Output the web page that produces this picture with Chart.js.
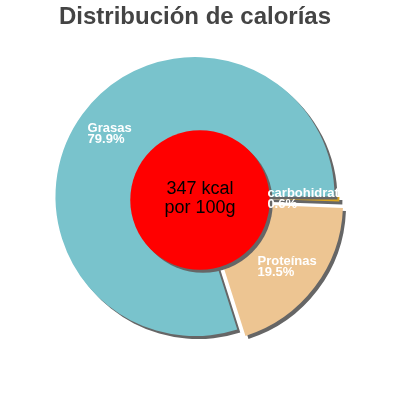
<!DOCTYPE html>
<html>
<head>
<meta charset="utf-8">
<title>Distribución de calorías</title>
<script src="https://cdn.jsdelivr.net/npm/chart.js@4.4.0/dist/chart.umd.min.js"></script>
<style>
    body { margin: 0; background: #ffffff; }
    canvas { display: block; }
</style>
</head>
<body>
<canvas id="myPieChart" width="400" height="400"></canvas>
<script>
// data
var chartTitle = 'Distribución de calorías';
var categories = ['carbohidratos', 'Proteínas', 'Grasas']; // clockwise from 3 o'clock
var percentages = [0.6, 19.5, 79.9];
var centerLines = ['347 kcal', 'por 100g'];

// styles of the slices
var sliceColors = ['#daa520', '#edc592', '#79c3cc'];
var sliceOffsets = [10, 40, 0]; // chart.js moves a slice offset/4 px
var shadowColor = '#666666';
var fontName = '"Liberation Sans", Arial, sans-serif';

// gray hard shadow, down and right
function setShadow(ctx) {
    ctx.shadowColor = shadowColor;
    ctx.shadowOffsetX = 3;
    ctx.shadowOffsetY = 3;
    ctx.shadowBlur = 0;
}

// shadow under every slice
var shadowPlugin = {
    id: 'sliceShadow',
    beforeDatasetDraw: function (chart) {
        chart.ctx.save();
        setShadow(chart.ctx);
    },
    afterDatasetDraw: function (chart) {
        chart.ctx.restore();
    }
};

// red circle in the middle + the labels on the slices
var centerPlugin = {
    id: 'centerCircle',
    afterDatasetsDraw: function (chart) {
        var ctx = chart.ctx;
        var arcs = chart.getDatasetMeta(0).data;
        var x = arcs[0].x;
        var y = arcs[0].y;
        var R = arcs[0].outerRadius;

        // red circle (sits a bit right/down of the pie center)
        var cx = x + 5;
        var cy = y + 3.5;
        ctx.save();
        setShadow(ctx);
        ctx.fillStyle = '#ff0000';
        ctx.beginPath();
        ctx.arc(cx, cy, R * 0.5, 0, Math.PI * 2);
        ctx.fill();
        ctx.restore();

        // kcal text
        ctx.save();
        ctx.fillStyle = '#000000';
        ctx.font = '18px ' + fontName;
        ctx.textAlign = 'center';
        ctx.textBaseline = 'middle';
        ctx.fillText(centerLines[0], cx, cy - 10.5);
        ctx.fillText(centerLines[1], cx, cy + 8.5);
        ctx.restore();

        // slice labels, clipped to the pie
        ctx.save();
        ctx.beginPath();
        ctx.arc(x, y, R + 4, 0, Math.PI * 2);
        ctx.clip();
        ctx.fillStyle = '#ffffff';
        ctx.font = 'bold 13px ' + fontName;
        ctx.textAlign = 'left';
        ctx.textBaseline = 'middle';
        arcs.forEach(function (arc, i) {
            var mid = (arc.startAngle + arc.endAngle) / 2;
            var dist = R * 0.758 + (sliceOffsets[i] > 0 ? 10 : 0);
            var px = x + Math.cos(mid) * dist;
            var py = y + Math.sin(mid) * dist;
            var lines = [categories[i], percentages[i].toFixed(1) + '%'];
            var w = Math.max(ctx.measureText(lines[0]).width, ctx.measureText(lines[1]).width);
            ctx.fillText(lines[0], px - w / 2, py - 5.5);
            ctx.fillText(lines[1], px - w / 2, py + 5.5);
        });
        ctx.restore();
    }
};

var ctx = document.getElementById('myPieChart').getContext('2d');
var myPieChart = new Chart(ctx, {
    type: 'pie',
    data: {
        labels: categories,
        datasets: [{
            data: percentages,
            backgroundColor: sliceColors,
            offset: sliceOffsets,
            hoverOffset: 0,
            borderWidth: 0,
            hoverBorderWidth: 0
        }]
    },
    options: {
        responsive: false,
        animation: false,
        events: [],
        rotation: 90, // first slice starts at 3 o'clock
        layout: {
            padding: { left: 35.5, right: 45.5, top: 0, bottom: 44 }
        },
        plugins: {
            legend: { display: false },
            tooltip: { enabled: false },
            title: {
                display: true,
                text: chartTitle,
                color: '#444444',
                font: { family: fontName, size: 24, weight: 'bold' },
                padding: { top: 2.5, bottom: 5.7 }
            }
        }
    },
    plugins: [shadowPlugin, centerPlugin]
});
</script>
</body>
</html>
